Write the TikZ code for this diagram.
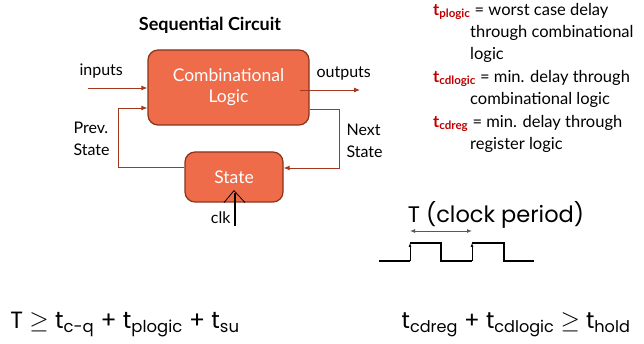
\documentclass[tikz,border=0pt]{standalone}
\usepackage{fontspec}
\setmainfont{Lato}
\newfontfamily\geofont{Poppins}
\usetikzlibrary{arrows.meta,positioning}

\definecolor{blockfill}{RGB}{238,108,74}
\definecolor{blockline}{RGB}{140,50,25}
\definecolor{wirecol}{RGB}{165,55,30}
\definecolor{tred}{RGB}{192,0,0}

% red bold t with subscript
\newcommand{\tsym}[1]{{\color{tred}\bfseries t\textsubscript{#1}}}
\newcommand{\tbig}[1]{t\textsubscript{#1}}

\begin{document}
\begin{tikzpicture}[x=1pt, y=-1pt,
  block/.style = {draw=blockline, fill=blockfill, rounded corners=10pt, line width=1.2pt,
                  text=white, font=\fontsize{17.5}{21}\selectfont, align=center},
  wire/.style = {draw=wirecol, line width=0.9pt, -{Latex[length=6pt,width=5pt]}},
  lbl/.style = {font=\fontsize{16}{22}\selectfont, align=left},
  defn/.style = {font=\fontsize{16.5}{22}\selectfont, align=left, anchor=north west, inner sep=0pt},
  big/.style = {font=\geofont\fontsize{22.5}{26}\selectfont}]
\useasboundingbox (0,0) rectangle (644,344);

% the circuit
\node[font=\bfseries\fontsize{18}{20}\selectfont] (title) at (210,25) {Sequential Circuit};
\node[block, minimum width=161pt, minimum height=75pt] (comb) at (228.5,87.5) {Combinational\\Logic};
\node[block, minimum width=98pt, minimum height=50pt] (state) at (234,177) {State};

\coordinate (in) at (88,88);
\coordinate (outsrc) at (300,90);
\coordinate (out) at (360,90);
\draw[wire] (in) -- (in -| comb.west);
\draw[wire] (outsrc) -- (out);
\node[lbl, anchor=south west] (inlbl) at (76,82) {inputs};
\node[lbl, anchor=south west] (outlbl) at (313,84) {outputs};

\draw[wire] ([yshift=10pt]state.west) -- ++(-66,0) |- ([yshift=-20.5pt]comb.west);
\draw[wire] ([yshift=-21.5pt]comb.east) -- ++(30,0) |- ([yshift=9pt]state.east);
\node[lbl, anchor=west] (prev) at (70,139) {Prev.\\State};
\node[lbl, anchor=west] (next) at (343,141) {Next\\State};

% clock input
\draw[line width=0.8pt] ([xshift=-10pt]state.south) -- ([yshift=12pt]state.south) -- ([xshift=11pt]state.south);
\coordinate (clkin) at (235,226);
\draw[line width=1.2pt] (clkin) -- ++(0,-33);
\node[lbl, anchor=east] (clk) at (234,218) {clk};

% definitions
\node[defn] (plogic) at (433,3) {\tsym{plogic} = worst case delay\\\hspace*{37pt}through combinational\\\hspace*{37pt}logic};
\node[defn] (cdlogic) at (433,70) {\tsym{cdlogic} = min. delay through\\\hspace*{37pt}combinational logic};
\node[defn] (cdreg) at (433,115) {\tsym{cdreg} = min. delay through\\\hspace*{37pt}register logic};

% clock waveform
\node[big] (period) at (496,215) {T (clock period)};
\coordinate (r1) at (410,261);
\coordinate (r2) at (472,261);
\draw[gray!70!black, line width=0.9pt, {Latex[length=5pt,width=4pt]}-{Latex[length=5pt,width=4pt]}]
  ([yshift=30pt]r1) -- ([yshift=30pt]r2);
\draw[line width=1.3pt] (379,261) -- (r1);
\draw[line width=1.3pt] ([yshift=18pt]r1) -- (441,243) -- (441,261) -- (r2);
\draw[line width=1.3pt] ([yshift=18pt]r2) -- (504,243) -- (504,261) -- (534,261);
\draw[line width=0.6pt, -{Latex[length=4pt,width=3pt]}] (r1) -- ++(0,-18);
\draw[line width=0.6pt, -{Latex[length=4pt,width=3pt]}] (r2) -- ++(0,-18);

% timing constraints
\node[big, font=\geofont\fontsize{23.5}{26}\selectfont] (setup) at (125,325)
  {T $\geq$ \tbig{c-q} + \tbig{plogic} + \tbig{su}};
\node[big, font=\geofont\fontsize{23}{26}\selectfont] (hold) at (516,325)
  {\tbig{cdreg} + \tbig{cdlogic} $\geq$ \tbig{hold}};
\end{tikzpicture}
\end{document}
